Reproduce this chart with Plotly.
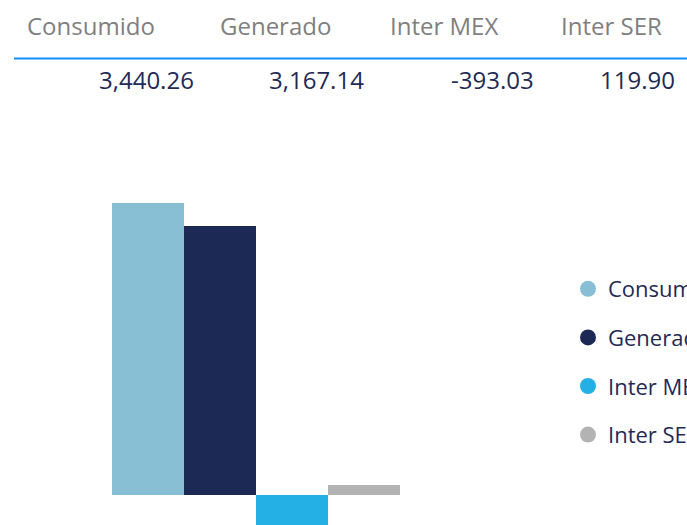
import plotly.graph_objects as go

# ---- data ----
series_names = ["Consumido", "Generado", "Inter MEX", "Inter SER"]
series_values = [3440.26, 3167.14, -393.03, 119.90]
value_labels = ["3,440.26", "3,167.14", "-393.03", "119.90"]
category = ["Total"]

# ---- styles ----
colors = ["#88BFD4", "#1C2955", "#25B0E5", "#B3B3B3"]
FONT = "Segoe UI, Open Sans, Noto Sans, sans-serif"
HEADER_COLOR = "#7F7F7F"
VALUE_COLOR = "#1F2A55"

W, H = 687, 525
L, R, T, B = 112, 287, 150, 0
PW, PH = W - L - R, H - T - B


def px2x(px):
    return (px - L) / PW


def py2y(py):
    return (H - py) / PH


fig = go.Figure()

for i, (name, val) in enumerate(zip(series_names, series_values)):
    fig.add_trace(go.Bar(
        x=category, y=[val], name=name, marker_color=colors[i],
        marker_line_width=0, showlegend=False, legendgroup=name,
    ))
for i, name in enumerate(series_names):
    fig.add_trace(go.Scatter(
        x=[None], y=[None], mode="markers", name=name, legendgroup=name,
        marker=dict(symbol="circle", size=19, color=colors[i]),
        showlegend=True,
    ))

# table-like header and values
header_left = [25, 218, 388, 559]
value_right = [196, 366, 536, 677]
annotations = []
for i, name in enumerate(series_names):
    annotations.append(dict(
        x=px2x(header_left[i]), y=py2y(25.5), xref="paper", yref="paper",
        text=name, showarrow=False, xanchor="left", yanchor="middle",
        font=dict(family=FONT, size=24, color=HEADER_COLOR),
    ))
    annotations.append(dict(
        x=px2x(value_right[i]), y=py2y(80), xref="paper", yref="paper",
        text=value_labels[i], showarrow=False, xanchor="right", yanchor="middle",
        font=dict(family=FONT, size=24, color=VALUE_COLOR),
    ))

shapes = [dict(
    type="line", xref="paper", yref="paper",
    x0=px2x(14), x1=px2x(W + 5), y0=py2y(58.5), y1=py2y(58.5),
    line=dict(color="#118DFF", width=2),
)]

k = 292 / series_values[0]  # px per unit
y_lo = -(H - 495) / k
y_hi = (495 - T) / k

fig.update_layout(
    width=W, height=H,
    margin=dict(l=L, r=R, t=T, b=B, pad=0),
    paper_bgcolor="white", plot_bgcolor="white",
    barmode="group", bargap=0, bargroupgap=0,
    xaxis=dict(visible=False, range=[-0.5, 0.5]),
    yaxis=dict(visible=False, range=[y_lo, y_hi]),
    showlegend=True,
    legend=dict(
        xref="container", yref="container",
        x=568 / W, y=1 - 268 / H, xanchor="left", yanchor="top",
        font=dict(family=FONT, size=22, color=VALUE_COLOR),
        tracegroupgap=17, bgcolor="rgba(0,0,0,0)",
        itemclick=False, itemdoubleclick=False,
    ),
    annotations=annotations,
    shapes=shapes,
)

fig.write_html(
    "out.html",
    config={"displayModeBar": False},
    post_script="document.body.style.margin='0';document.body.style.overflow='hidden';",
)
